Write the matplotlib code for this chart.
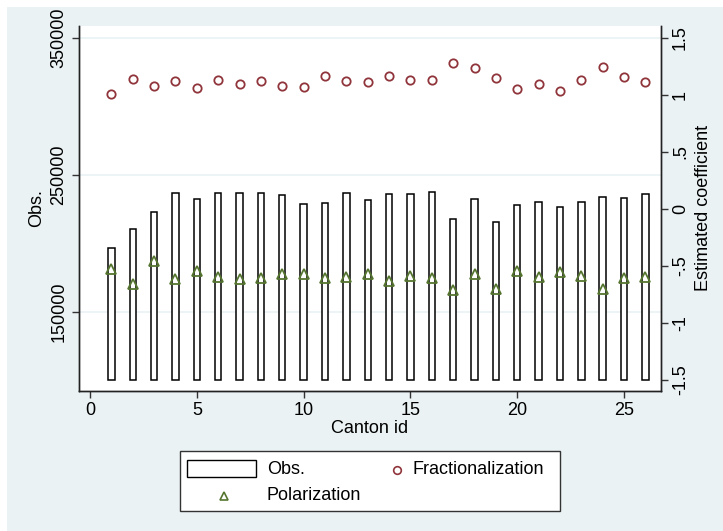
import numpy as np
import matplotlib
matplotlib.use("Agg")
import matplotlib.pyplot as plt
from matplotlib.patches import Rectangle
from matplotlib.lines import Line2D

plt.rcParams['font.family'] = ['Liberation Sans', 'DejaVu Sans']

canton = list(range(1, 27))
obs = [196500, 210200, 223000, 236900, 232500, 236900, 236900, 236900, 235000, 228400,
       229400, 236500, 231600, 236000, 236200, 237600, 217700, 232100, 215300, 227700,
       230300, 226200, 229900, 233800, 232800, 236200]
fractionalization = [1.003, 1.138, 1.079, 1.117, 1.059, 1.132, 1.096, 1.117, 1.076, 1.067,
                     1.164, 1.117, 1.114, 1.164, 1.126, 1.126, 1.278, 1.237, 1.143, 1.047,
                     1.094, 1.029, 1.126, 1.246, 1.155, 1.108]
polarization = [-0.53, -0.655, -0.456, -0.614, -0.544, -0.60, -0.617, -0.602, -0.567, -0.57,
                -0.602, -0.60, -0.567, -0.629, -0.585, -0.608, -0.711, -0.57, -0.705, -0.547,
                -0.60, -0.556, -0.585, -0.705, -0.602, -0.596]
bar_base = 100000
left_ticks = [150000, 250000, 350000]
right_ticks = [-1.5, -1, -0.5, 0, 0.5, 1, 1.5]
right_labels = ["-1.5", "-1", "-.5", "0", ".5", "1", "1.5"]
x_ticks = [0, 5, 10, 15, 20, 25]
legend_labels = ['Obs.', 'Polarization', 'Fractionalization']

W, H = 723, 531
fig = plt.figure(figsize=(W / 100, H / 100), dpi=100)
fig.patch.set_facecolor('white')
bg = Rectangle((7 / W, 0), 1 - 7 / W, 1 - 7 / H, transform=fig.transFigure,
               facecolor='#EAF2F3', edgecolor='none', zorder=-10)
fig.patches.append(bg)

ax = fig.add_axes([78.7 / W, 1 - 390.7 / H, (661 - 78.7) / W, (390.7 - 26) / H])
ax.set_facecolor('white')
ax2 = ax.twinx()

heights = [o - bar_base for o in obs]
ax.bar(canton, heights, bottom=bar_base, width=0.3, facecolor='white',
       edgecolor='black', linewidth=1.1, zorder=2)
ax.set_ylim(92178, 358550)
ax.set_xlim(-0.53, 26.73)
ax.set_yticks(left_ticks)
ax.set_yticklabels([str(t) for t in left_ticks], rotation=90, va='center', fontsize=13)
ax.set_xticks(x_ticks)
ax.set_xticklabels([str(t) for t in x_ticks], fontsize=13)
ax.grid(axis='y', color='#EAF2F3', linewidth=1.2, zorder=0)
ax.set_axisbelow(True)
ax.set_ylabel('Obs.', fontsize=13, labelpad=4)
ax.set_xlabel('Canton id', fontsize=13, labelpad=1)
ax.tick_params(axis='both', length=5, width=1, color='#333333', pad=3)

red = '#90353B'
green = '#55752F'
ax2.plot(canton, fractionalization, linestyle='none', marker='o', markersize=6,
         markerfacecolor='none', markeredgecolor=red, markeredgewidth=1.3, zorder=3)
ax2.plot(canton, polarization, linestyle='none', marker='^', markersize=7,
         markerfacecolor='none', markeredgecolor=green, markeredgewidth=1.3, zorder=3)
ax2.set_ylim(-1.594, 1.603)
ax2.set_yticks(right_ticks)
ax2.set_yticklabels(right_labels, rotation=90, va='center', fontsize=13)
ax2.set_ylabel('Estimated coefficient', fontsize=13, labelpad=4)
ax2.tick_params(axis='y', length=5, width=1, color='#333333', pad=3)

for a in (ax, ax2):
    a.spines['top'].set_visible(False)
    for s in ('left', 'right', 'bottom'):
        a.spines[s].set_color('#222222')
        a.spines[s].set_linewidth(1.0)

# manual legend (Stata style)
def fx(px):
    return px / W

def fy(py):
    return 1 - py / H

frame = Rectangle((fx(180), fy(511)), fx(560) - fx(180), fy(451) - fy(511),
                  transform=fig.transFigure, facecolor='white', edgecolor='#333333',
                  linewidth=1.0, zorder=5)
fig.patches.append(frame)
key_rect = Rectangle((fx(187), fy(477)), fx(256) - fx(187), fy(460) - fy(477),
                     transform=fig.transFigure, facecolor='white', edgecolor='black',
                     linewidth=1.0, zorder=6)
fig.patches.append(key_rect)
fig.lines.append(Line2D([fx(224)], [fy(496)], transform=fig.transFigure, linestyle='none',
                        marker='^', markersize=6, markerfacecolor='none',
                        markeredgecolor=green, markeredgewidth=1.2, zorder=6))
fig.lines.append(Line2D([fx(397)], [fy(470)], transform=fig.transFigure, linestyle='none',
                        marker='o', markersize=5.5, markerfacecolor='none',
                        markeredgecolor=red, markeredgewidth=1.2, zorder=6))
fig.text(fx(267), fy(470), legend_labels[0], fontsize=13, va='center', ha='left', zorder=7)
fig.text(fx(267), fy(496), legend_labels[1], fontsize=13, va='center', ha='left', zorder=7)
fig.text(fx(413), fy(470), legend_labels[2], fontsize=13, va='center', ha='left', zorder=7)

fig.savefig('out.png', dpi=100)
